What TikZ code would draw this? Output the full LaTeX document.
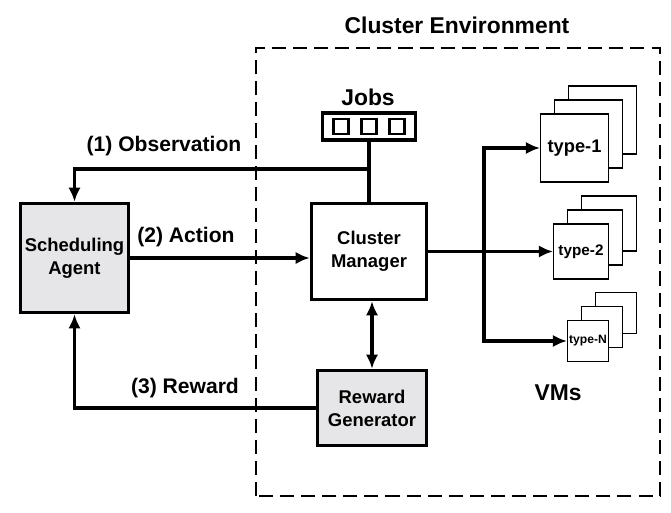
\documentclass[tikz,border=0pt]{standalone}
\usepackage{fontspec}
\setmainfont{Liberation Sans}
\usepackage{tikz}
\usetikzlibrary{arrows.meta,calc}
\definecolor{boxgray}{RGB}{230,230,232}
\tikzstyle{blk}=[rectangle, draw=black, line width=2pt, align=center,% thick boxes
inner sep=0pt, font=\bfseries\fontsize{10.5}{13}\selectfont]
\tikzstyle{grayblk}=[blk, fill=boxgray]
\tikzstyle{vm}=[rectangle, draw=black, line width=0.6pt, fill=white, inner sep=0pt]
\tikzstyle{slot}=[rectangle, draw=black, line width=1.6pt, minimum size=0.3cm]
\tikzstyle{lbl}=[font=\bfseries\fontsize{12}{14}\selectfont]
\tikzstyle{biglbl}=[font=\bfseries\fontsize{13}{15}\selectfont]
\tikzstyle{wire}=[line width=2pt]
\tikzstyle{flow}=[wire, -{Latex[length=8pt,width=7pt]}]

\begin{document}
\begin{tikzpicture}
\useasboundingbox (0,0) rectangle (13.42,10.24);
% cluster environment
\draw[line width=0.8pt, dash pattern=on 8pt off 4pt] (5.12,0.32) rectangle (13.2,9.28);
\node[biglbl] (env) at (9.14,9.74) {Cluster Environment};
% job queue
\node[biglbl] (jobslbl) at (7.36,8.30) {Jobs};
\node[rectangle, draw=black, line width=2pt, minimum width=1.86cm, minimum height=0.54cm] (jobs) at (7.38,7.71) {};
\node[slot] (q1) at (6.82,7.71) {};
\node[slot] (q2) at (7.38,7.71) {};
\node[slot] (q3) at (7.94,7.71) {};
% main blocks
\node[grayblk, minimum width=2.16cm, minimum height=2.18cm] (agent) at (1.49,5.08) {Scheduling\\Agent};
\node[blk, minimum width=2.30cm, minimum height=1.92cm] (manager) at (7.38,5.21) {Cluster\\Manager};
\node[grayblk, minimum width=2.18cm, minimum height=1.50cm] (reward) at (7.44,2.08) {Reward\\Generator};
% VM stacks
\node[vm, minimum size=1.36cm] (t1c) at (12.05,7.84) {};
\node[vm, minimum size=1.36cm] (t1b) at (11.77,7.56) {};
\node[vm, minimum size=1.36cm, font=\bfseries\fontsize{10.4}{12}\selectfont] (t1) at (11.49,7.28) {type-1};
\node[vm, minimum size=1.10cm] (t2c) at (12.18,5.77) {};
\node[vm, minimum size=1.10cm] (t2b) at (11.90,5.49) {};
\node[vm, minimum size=1.10cm, font=\bfseries\fontsize{8.7}{10}\selectfont] (t2) at (11.62,5.21) {type-2};
\node[vm, minimum size=0.82cm] (tnc) at (12.32,3.98) {};
\node[vm, minimum size=0.82cm] (tnb) at (12.04,3.70) {};
\node[vm, minimum size=0.82cm, font=\bfseries\fontsize{6.9}{8}\selectfont] (tn) at (11.76,3.42) {type-N};
\node[biglbl] (vms) at (11.16,2.38) {VMs};
% connectors
\coordinate (obs) at (7.38,6.86);
\coordinate (fan) at (9.68,5.21);
\draw[wire] (jobs.south) -- (manager.north);
\draw[flow] (obs) -| (agent.north);
\node[lbl] (obslbl) at (3.28,7.32) {(1) Observation};
\draw[flow] (agent.east) -- (agent.east -| manager.west);
\node[lbl] (actlbl) at (3.72,5.50) {(2) Action};
\draw[flow] (reward.west) -| (agent.south);
\node[lbl] (rewlbl) at (3.70,2.48) {(3) Reward};
\draw[wire, {Latex[length=8pt,width=7pt]}-{Latex[length=8pt,width=7pt]}] (reward.north |- manager.south) -- (reward.north);
\draw[flow] (manager.east) -- (t2.west);
\draw[flow] (fan) |- (t1.west);
\draw[flow] (fan) |- (tn.west);
\end{tikzpicture}
\end{document}
